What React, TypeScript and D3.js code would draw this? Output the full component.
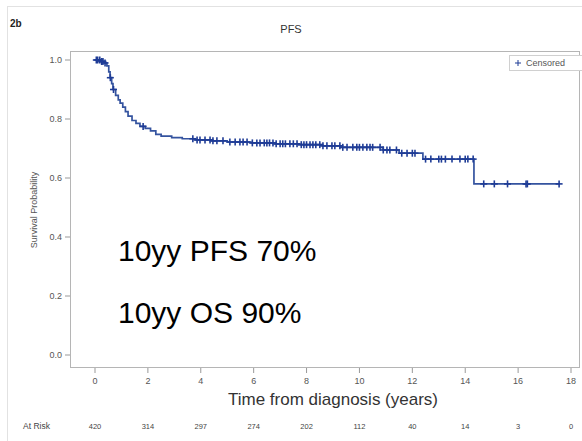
import React from "react";
import * as d3 from "d3";

const stepTimes = [0, 0.2, 0.35, 0.45, 0.52, 0.57, 0.63, 0.68, 0.78, 0.88, 0.95, 1.05, 1.15, 1.25, 1.4, 1.55, 1.7, 1.9, 2.1, 2.3, 2.5, 2.9, 3.3, 3.8, 4.4, 5.0, 5.9, 6.8, 7.7, 8.6, 9.3, 10.9, 11.5, 12.4, 14.33];
const survival = [1.0, 0.995, 0.99, 0.98, 0.96, 0.94, 0.92, 0.9, 0.88, 0.865, 0.854, 0.84, 0.825, 0.81, 0.795, 0.785, 0.775, 0.768, 0.76, 0.748, 0.742, 0.737, 0.733, 0.729, 0.726, 0.722, 0.719, 0.716, 0.713, 0.709, 0.704, 0.695, 0.684, 0.664, 0.58];
const lastTime = 17.58;

const censorTimes = [
  0.05, 0.1, 0.18, 0.25, 0.3, 0.38, 0.58, 0.7, 1.82,
  3.7, 3.86, 3.97, 4.16, 4.35, 4.46, 4.61, 4.84, 5.1, 5.3, 5.48, 5.6, 5.75, 5.95, 6.12, 6.24, 6.4, 6.5, 6.6, 6.73, 6.85,
  7.0, 7.1, 7.2, 7.37, 7.5, 7.64, 7.8, 7.9, 8.0, 8.13, 8.24, 8.35, 8.5, 8.62, 8.77, 8.96, 9.07, 9.26, 9.37, 9.53, 9.75,
  9.9, 10.0, 10.13, 10.28, 10.4, 10.5, 10.78, 10.9, 11.04, 11.15, 11.4, 11.6, 11.8, 12.0, 12.1, 12.5, 12.7, 13.0, 13.1,
  13.25, 13.5, 13.8, 14.0, 14.1, 14.3,
  14.7, 15.1, 15.6, 16.3, 16.35, 17.55,
];

const xTicks = [0, 2, 4, 6, 8, 10, 12, 14, 16, 18];
const yTicks = [0, 0.2, 0.4, 0.6, 0.8, 1.0];
const atRisk = [420, 314, 297, 274, 202, 112, 40, 14, 3, 0];
const annotations = ["10yy PFS 70%", "10yy OS 90%"];

const W = 582;
const H = 441;
const FONT = "'Liberation Sans', Arial, sans-serif";
const LINE = "#34539f";
const MARK = "#1f3c96";

export default function App() {
  const x = d3.scaleLinear().domain([0, 18]).range([95, 571]);
  const y = d3.scaleLinear().domain([0, 1]).range([355, 60]);

  const pts: [number, number][] = stepTimes.map((t, i) => [t, survival[i]]);
  pts.push([lastTime, survival[survival.length - 1]]);
  const line = d3
    .line<[number, number]>()
    .x((d) => x(d[0]))
    .y((d) => y(d[1]))
    .curve(d3.curveStepAfter);

  const survAt = (t: number) => {
    const i = d3.bisectRight(stepTimes, t) - 1;
    return survival[Math.max(0, i)];
  };

  const frame = { x0: 70, x1: 579, y0: 51, y1: 367 };

  return (
    <svg
      width={W}
      height={H}
      style={{ position: "absolute", left: 0, top: 0, background: "#fff" }}
      fontFamily={FONT}
    >
      <rect x={7.5} y={6.5} width={W} height={H} fill="none" stroke="#e2e2e2" />
      <text x={10} y={27} fontSize={10} fontWeight="bold" fill="#222">2b</text>
      <text x={291} y={33} fontSize={11} textAnchor="middle" fill="#333">PFS</text>

      <rect
        x={frame.x0 + 0.5}
        y={frame.y0 + 0.5}
        width={frame.x1 - frame.x0}
        height={frame.y1 - frame.y0}
        fill="#fff"
        stroke="#b5b5b5"
      />

      {yTicks.map((v) => (
        <g key={v}>
          <line x1={65} x2={70} y1={y(v)} y2={y(v)} stroke="#999" />
          <text x={62} y={y(v) + 3} fontSize={9} textAnchor="end" fill="#555">
            {v.toFixed(1)}
          </text>
        </g>
      ))}
      <text
        transform={`translate(37,210) rotate(-90)`}
        fontSize={9}
        textAnchor="middle"
        fill="#555"
      >
        Survival Probability
      </text>

      {xTicks.map((v) => (
        <g key={v}>
          <line x1={x(v)} x2={x(v)} y1={368} y2={373} stroke="#999" />
          <text x={x(v)} y={384} fontSize={9} textAnchor="middle" fill="#555">
            {v}
          </text>
        </g>
      ))}
      <text x={333} y={405} fontSize={17} textAnchor="middle" fill="#333">
        Time from diagnosis (years)
      </text>

      <text x={23} y={429} fontSize={8.5} fill="#444">At Risk</text>
      {atRisk.map((n, i) => (
        <text key={i} x={x(xTicks[i])} y={429} fontSize={7.5} textAnchor="middle" fill="#444">
          {n}
        </text>
      ))}

      <path d={line(pts) || ""} fill="none" stroke={LINE} strokeWidth={1.7} />
      {censorTimes.map((t, i) => {
        const cx = x(t);
        const cy = y(survAt(t));
        return (
          <g key={i} stroke={MARK} strokeWidth={1.6}>
            <line x1={cx - 3.5} x2={cx + 3.5} y1={cy} y2={cy} />
            <line x1={cx} x2={cx} y1={cy - 3.5} y2={cy + 3.5} />
          </g>
        );
      })}

      <rect x={509.5} y={55.5} width={80} height={15} fill="#fff" stroke="#d0d0d0" />
      <g stroke={MARK} strokeWidth={1}>
        <line x1={515} x2={521} y1={63} y2={63} />
        <line x1={518} x2={518} y1={60} y2={66} />
      </g>
      <text x={526} y={66} fontSize={9} fill="#555">Censored</text>

      <text x={118} y={261} fontSize={30} fill="#000">{annotations[0]}</text>
      <text x={118} y={323} fontSize={30} fill="#000">{annotations[1]}</text>
    </svg>
  );
}
